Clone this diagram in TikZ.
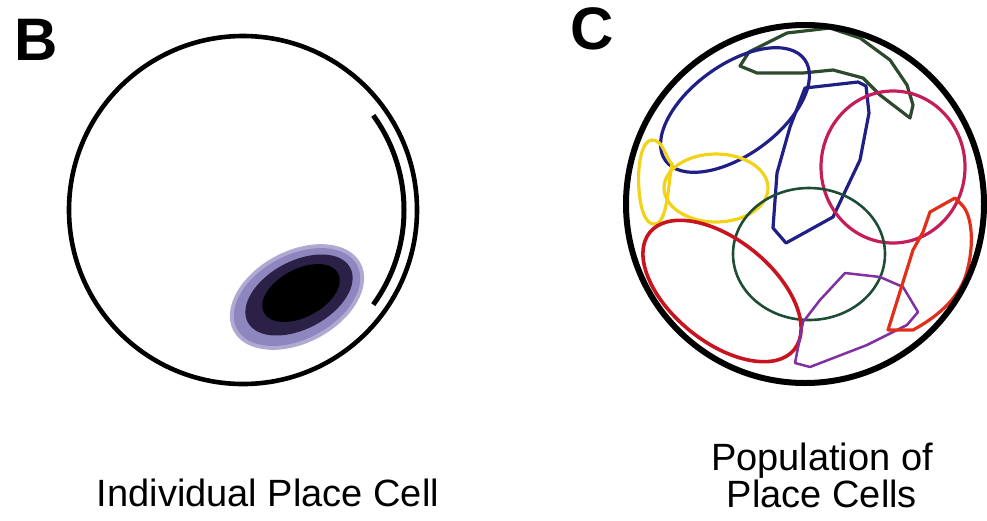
\documentclass[tikz,border=0pt]{standalone}
\usepackage{fontspec}
\setmainfont{Liberation Sans}
\definecolor{navy}{HTML}{1F1F86}
\definecolor{pgreen}{HTML}{2D4A2D}
\definecolor{crimson}{HTML}{C41E5A}
\definecolor{yel}{HTML}{F2D31A}
\definecolor{cgreen}{HTML}{1E4D35}
\definecolor{redell}{HTML}{C8141E}
\definecolor{purp}{HTML}{8030A0}
\definecolor{orred}{HTML}{E0301A}
\definecolor{lav}{HTML}{8E86BE}
\definecolor{darkpur}{HTML}{2B2046}
\tikzset{
  field/.style={line width=3.2pt, line join=round},
  arena/.style={line width=4.6pt, draw=black},
  panel/.style={font=\fontsize{60}{60}\selectfont\bfseries, inner sep=0pt, anchor=base west},
  caption/.style={font=\fontsize{38}{44}\selectfont, inner sep=0pt, anchor=base, align=center},
}
\begin{document}
\begin{tikzpicture}[x=1pt,y=-1pt]
\useasboundingbox (0,0) rectangle (987,520);
% ---------- Panel B ----------
\node[panel] (labB) at (14,60) {B};
% blob
\fill[lav!70, rotate around={28:(297,297)}] (297,297) ellipse[x radius=72pt, y radius=46pt];
\fill[lav, rotate around={28:(297,297)}] (297,297) ellipse[x radius=68pt, y radius=42pt];
\fill[darkpur, rotate around={28:(299,295)}] (299,295) ellipse[x radius=58pt, y radius=34pt];
\fill[black, rotate around={28:(301,293)}] (301,293) ellipse[x radius=42pt, y radius=24pt];
\draw[arena] (243,210) circle[radius=174];
\draw[line width=5pt] ([shift={(243,210)}]-36:161) arc[start angle=-36, end angle=36, radius=161];
\node[caption] (capB) at (268,506) {Individual Place Cell};
% ---------- Panel C ----------
\node[panel] (labC) at (570,49) {C};
% green polygon top
\draw[field, pgreen] (740,66) -- (749,52) -- (787,33) -- (830,28) -- (860,38) -- (890,60) -- (907,85) -- (913,105) -- (910,118) -- (880,95) -- (863,78) -- (833,70) -- (803,73) -- (757,73) -- cycle;
% blue ellipse
\draw[field, navy, rotate around={36:(735,110)}] (735,110) ellipse[x radius=86pt, y radius=45pt];
% navy kite
\draw[field, navy] (805,88) -- (858,82) -- (866,86) -- (869,113) -- (860,160) -- (833,217) -- (786,243) -- (773,228) -- (777,173) -- (790,127) -- cycle;
% crimson circle
\draw[field, crimson] (893,167) ellipse[x radius=72pt, y radius=76pt];
% yellow shapes
\draw[field, yel] (652,140) .. controls (664,140) and (665,158) .. (672,164)
  .. controls (668,185) and (668,215) .. (658,223)
  .. controls (648,228) and (641,215) .. (639,190)
  .. controls (637,165) and (642,140) .. (652,140) -- cycle;
\draw[field, yel] (716,188) ellipse[x radius=52pt, y radius=34pt];
% dark green circle
\draw[field, cgreen, line width=2.6pt] (809,254) ellipse[x radius=76pt, y radius=66pt];
% red ellipse
\draw[field, redell, line width=3.6pt, rotate around={-39:(722,291)}] (722,291) ellipse[x radius=93pt, y radius=51pt];
% purple polygon
\draw[field, purp, line width=2.5pt] (795,363) -- (803,322) -- (820,300) -- (845,273) -- (880,277) -- (903,287) -- (918,312) -- (907,325) -- (867,345) -- (810,367) -- cycle;
% orange-red polygon
\draw[field, orred] (955,198) -- (930,212) -- (923,232) -- (913,250) -- (888,330) -- (913,330)
  .. controls (935,318) and (958,300) .. (966,275)
  .. controls (975,245) and (972,215) .. (962,205) -- cycle;
% arena circle
\draw[arena, line width=6pt] (805,204) circle[radius=179];
\node[caption] (capC1) at (822,470) {Population of};
\node[caption] (capC2) at (822,507) {Place Cells};
\end{tikzpicture}
\end{document}
